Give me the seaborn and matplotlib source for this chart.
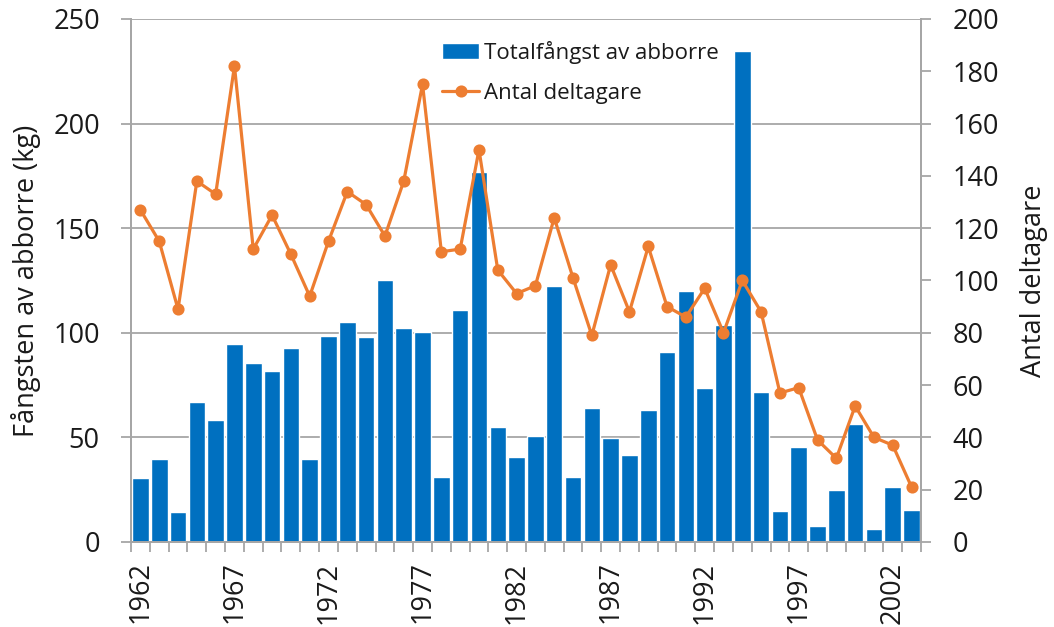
import matplotlib
matplotlib.use("Agg")
import matplotlib.pyplot as plt
import seaborn as sns
import numpy as np
import pandas as pd

years = list(range(1962, 2004))
catch_kg = [30.5, 39.5, 14.5, 67, 58.5, 94.5, 85.5, 81.5, 92.5, 39.5, 98.5, 105, 98, 125, 102.5, 100.5,
            31, 111, 177, 55, 40.5, 50.5, 122.5, 31, 64, 49.5, 41.5, 63, 91, 120, 73.5, 103.5,
            234.5, 71.5, 15, 45.5, 7.5, 25, 56.5, 6, 26.5, 15.5]
participants = [127, 115, 89, 138, 133, 182, 112, 125, 110, 94, 115, 134, 129, 117, 138, 175,
                111, 112, 150, 104, 95, 98, 124, 101, 79, 106, 88, 113, 90, 86, 97, 80,
                100, 88, 57, 59, 39, 32, 52, 40, 37, 21]
left_ticks = [0, 50, 100, 150, 200, 250]
right_ticks = list(range(0, 201, 20))
bar_label = "Totalfångst av abborre"
line_label = "Antal deltagare"
ylabel_left = "Fångsten av abborre (kg)"
ylabel_right = "Antal deltagare"

BLUE = "#0070c0"
ORANGE = "#ed7d31"
GRID = "#a6a6a6"
TXT = "#1a1a1a"
FS = 19.5

sns.set_theme(style="white")
plt.rcParams["font.family"] = ["Open Sans", "DejaVu Sans"]

df = pd.DataFrame({"year": [str(y) for y in years], "catch": catch_kg, "part": participants})

fig = plt.figure(figsize=(10.54, 6.27), dpi=100)
ax = fig.add_axes([0.1243, 0.1356, 0.7495, 0.8341])

sns.barplot(data=df, x="year", y="catch", ax=ax, color=BLUE, saturation=1,
            width=0.88, label=bar_label, zorder=2)
if ax.get_legend() is not None:
    ax.get_legend().remove()
ax.set_ylim(0, 250)
ax.set_yticks(left_ticks)
ax.yaxis.grid(True, color=GRID, linewidth=1.3, zorder=0)
ax.set_axisbelow(True)

ax2 = ax.twinx()
sns.pointplot(data=df, x="year", y="part", ax=ax2, color=ORANGE, label=line_label,
              markers="o", markersize=7, linewidth=2.3, errorbar=None)
if ax2.get_legend() is not None:
    ax2.get_legend().remove()
ax2.set_ylim(0, 200)
ax2.set_yticks(right_ticks)

n = len(years)
for a in (ax, ax2):
    a.set_xlim(-0.5, n - 0.5)

ax.set_xticks([i for i, y in enumerate(years) if (y - 1962) % 5 == 0])
ax.set_xticklabels([str(y) for y in years if (y - 1962) % 5 == 0], rotation=90)
ax.set_xticks(np.arange(-0.5, n, 1.0), minor=True)
ax.tick_params(axis="x", which="major", length=0, pad=14, labelsize=FS, labelcolor=TXT)
ax.tick_params(axis="x", which="minor", length=7.5, width=1.3, color=GRID, bottom=True)
ax.tick_params(axis="y", length=7.5, width=1.3, color=GRID, labelsize=FS, labelcolor=TXT, left=True, pad=15)
ax2.tick_params(axis="y", length=7.5, width=1.3, color=GRID, labelsize=FS, labelcolor=TXT, right=True, pad=15)

ax.set_xlabel("")
ax.set_ylabel(ylabel_left, fontsize=FS, color=TXT, labelpad=9)
ax2.set_ylabel(ylabel_right, fontsize=FS, color=TXT, labelpad=15)
ax2.set_xlabel("")

for a in (ax, ax2):
    for side in ("left", "right", "bottom"):
        a.spines[side].set_color(GRID)
        a.spines[side].set_linewidth(1.3)
    a.spines["top"].set_visible(False)

h1, l1 = ax.get_legend_handles_labels()
h2, l2 = ax2.get_legend_handles_labels()
leg = ax2.legend(h1 + h2, l1 + l2, loc="upper left", bbox_to_anchor=(0.4194, 0.9346),
                 bbox_transform=fig.transFigure, borderpad=0, borderaxespad=0,
                 frameon=False, fontsize=16, handlelength=1.67, handletextpad=0.2,
                 labelspacing=0.85)
for t in leg.get_texts():
    t.set_color(TXT)

fig.savefig("out.png", dpi=100)
